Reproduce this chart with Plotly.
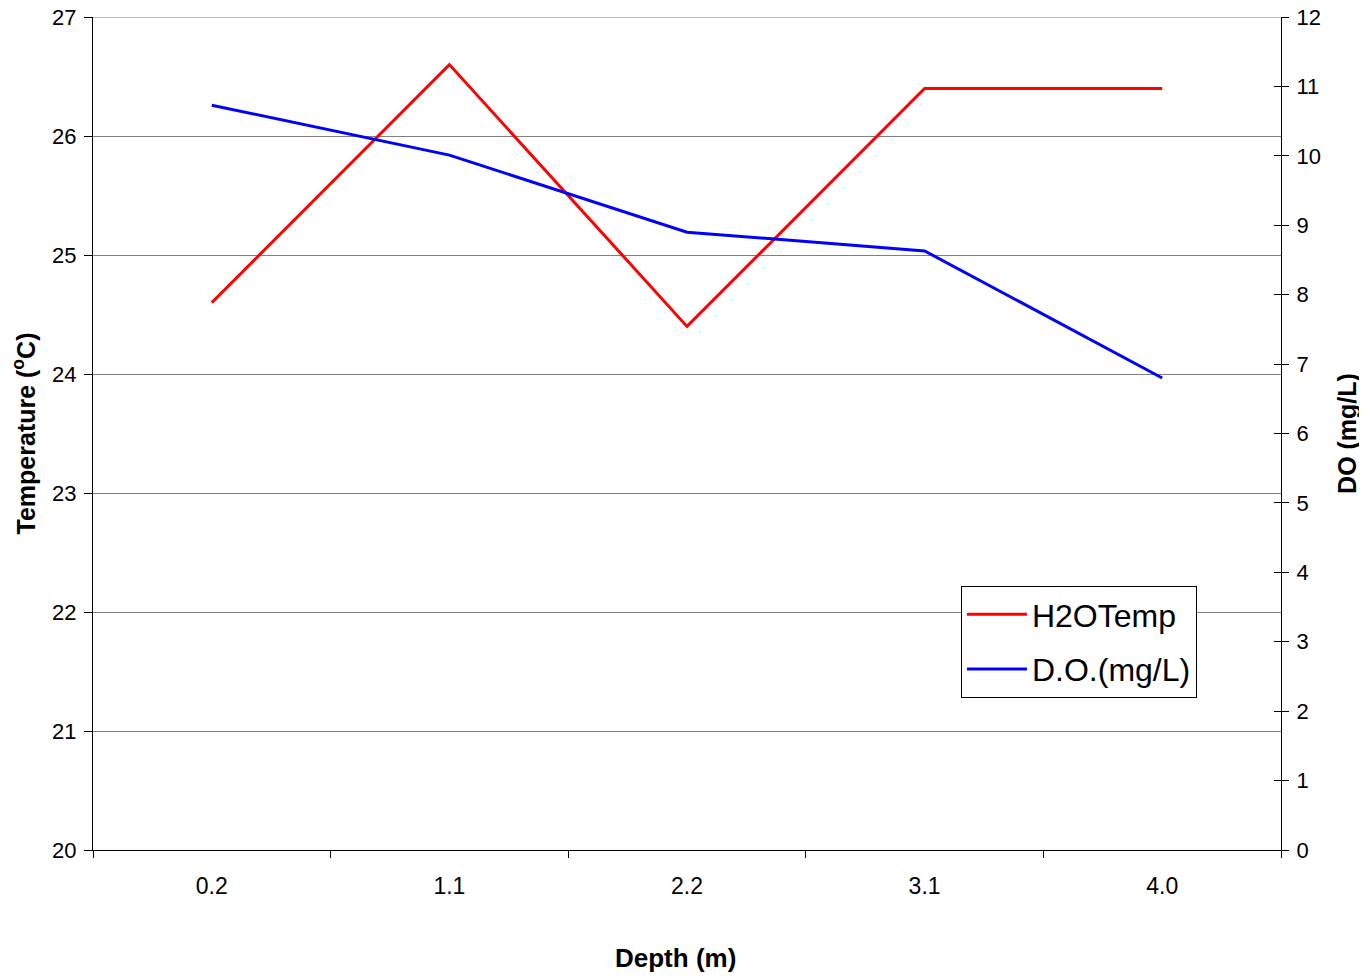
import plotly.graph_objects as go

depth = ["0.2", "1.1", "2.2", "3.1", "4.0"]
h2o_temp = [24.6, 26.6, 24.4, 26.4, 26.4]
do_mgl = [10.73, 10.01, 8.90, 8.63, 6.80]

font = "Liberation Sans, Arial, sans-serif"

fig = go.Figure()
fig.add_trace(go.Scatter(x=depth, y=h2o_temp, name="H2OTemp", mode="lines",
                         line=dict(color="#ff0000", width=3), yaxis="y",
                         legendgroup="a"))
fig.add_trace(go.Scatter(x=depth, y=do_mgl, name="D.O.(mg/L)", mode="lines",
                         line=dict(color="#0000ff", width=3), yaxis="y2",
                         legendgroup="b"))
# invisible trace to carry inward right-axis ticks
fig.add_trace(go.Scatter(x=depth, y=do_mgl, yaxis="y3", mode="lines",
                         line=dict(width=0), opacity=0, showlegend=False, hoverinfo="skip"))

fig.update_layout(
    width=1359, height=971,
    margin=dict(l=85, r=86, t=9, b=129),
    paper_bgcolor="white", plot_bgcolor="white",
    font=dict(family=font, size=22, color="black"),
    showlegend=True,
    legend=dict(x=0.7306, y=0.3169, xanchor="left", yanchor="top",
                bordercolor="black", borderwidth=1, bgcolor="white",
                font=dict(size=32, family=font), traceorder="grouped",
                tracegroupgap=10, itemwidth=60),
    xaxis=dict(type="category", range=[-0.5, 4.5], tickson="boundaries",
               ticks="outside", ticklen=7, tickcolor="black",
               showline=True, linecolor="black", linewidth=1,
               showgrid=False, zeroline=False, automargin=False,
               ticklabelstandoff=15, tickfont=dict(size=23)),
    yaxis=dict(range=[20, 27], dtick=1, ticks="outside", ticklen=8, tickcolor="black",
               showline=True, linecolor="black", linewidth=1, automargin=False,
               showgrid=True, gridcolor="#808080", gridwidth=1, zeroline=False,
               ticklabelstandoff=3, ticklabeloverflow="allow",
               title=dict(text="<b>Temperature (<sup>o</sup>C)</b>", standoff=22, font=dict(size=25)),
               tickfont=dict(size=22)),
    yaxis2=dict(range=[0, 12], dtick=1, overlaying="y", side="right", anchor="x",
                ticks="outside", ticklen=7, tickcolor="black", automargin=False,
                showline=True, linecolor="black", linewidth=1,
                showgrid=False, zeroline=False, ticklabelstandoff=3,
                ticklabeloverflow="allow",
                title=dict(text="<b>DO (mg/L)</b>", standoff=18, font=dict(size=25)),
                tickfont=dict(size=22)),
    yaxis3=dict(range=[0, 12], dtick=1, overlaying="y", side="right", anchor="x",
                ticks="inside", ticklen=7, tickcolor="black", showticklabels=False,
                showline=False, showgrid=False, zeroline=False, automargin=False),
    annotations=[dict(text="<b>Depth (m)</b>", xref="paper", yref="paper",
                      x=0.49, y=-0.1297, xanchor="center", yanchor="middle",
                      showarrow=False, font=dict(size=26))],
    shapes=[dict(type="line", xref="paper", yref="y", x0=0, x1=1, y0=27, y1=27,
                 line=dict(color="#808080", width=1), layer="below")],
)

fig.write_html("out.html")
